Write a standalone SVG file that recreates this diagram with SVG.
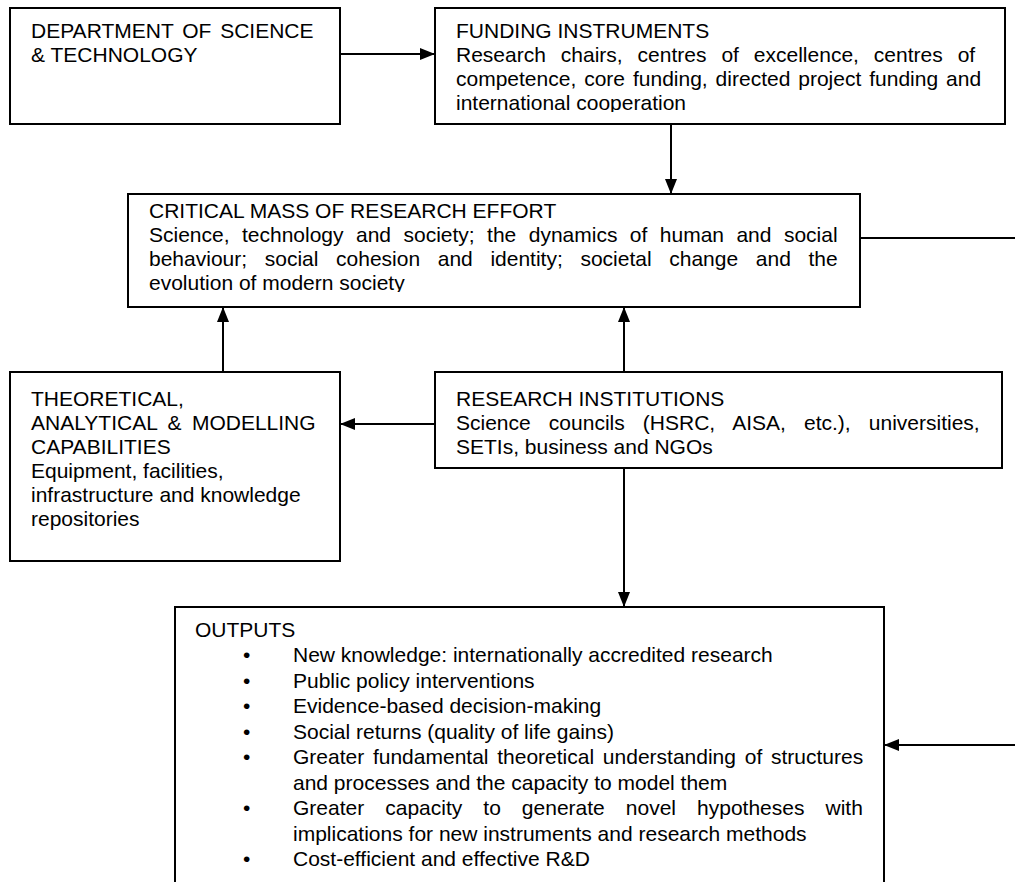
<svg xmlns="http://www.w3.org/2000/svg" width="1015" height="882" viewBox="0 0 1015 882">
<style>
.box{fill:#fff;stroke:#000;stroke-width:2}
.t{font-family:"Liberation Sans",Arial,sans-serif;font-size:21px;fill:#000}
.c{fill:none;stroke:#000;stroke-width:2}
</style>
<defs>
<marker id="ah" viewBox="0 0 15 12" refX="15" refY="6" markerWidth="15" markerHeight="12" markerUnits="userSpaceOnUse" orient="auto">
<path d="M0,0 L15,6 L0,12 Z" fill="#000"/>
</marker>
<clipPath id="cf"><rect x="434" y="8" width="572" height="104"/></clipPath>
<clipPath id="cc"><rect x="128" y="194" width="732" height="98"/></clipPath>
</defs>
<g id="dst">
<rect class="box" x="10" y="8" width="330" height="116"/>
<text class="t" x="31" y="38" word-spacing="3">DEPARTMENT OF SCIENCE</text>
<text class="t" x="31" y="62">&amp; TECHNOLOGY</text>
</g>
<g id="funding">
<rect class="box" x="435" y="8" width="570" height="116"/>
<g clip-path="url(#cf)">
<text class="t" x="456" y="38">FUNDING INSTRUMENTS</text>
<text class="t" x="456" y="62" word-spacing="9.1">Research chairs, centres of excellence, centres of</text>
<text class="t" x="456" y="86" word-spacing="2.1">competence, core funding, directed project funding and</text>
<text class="t" x="456" y="110">international cooperation</text>
</g>
</g>
<g id="critical">
<rect class="box" x="128" y="194" width="732" height="113"/>
<g clip-path="url(#cc)">
<text class="t" x="149" y="218">CRITICAL MASS OF RESEARCH EFFORT</text>
<text class="t" x="149" y="242" word-spacing="6.6">Science, technology and society; the dynamics of human and social</text>
<text class="t" x="149" y="266" word-spacing="11.8">behaviour; social cohesion and identity; societal change and the</text>
<text class="t" x="149" y="290">evolution of modern society</text>
</g>
</g>
<g id="theoretical">
<rect class="box" x="10" y="372" width="330" height="189"/>
<text class="t" x="31" y="406">THEORETICAL,</text>
<text class="t" x="31" y="430" word-spacing="4.6">ANALYTICAL &amp; MODELLING</text>
<text class="t" x="31" y="454">CAPABILITIES</text>
<text class="t" x="31" y="478">Equipment, facilities,</text>
<text class="t" x="31" y="502">infrastructure and knowledge</text>
<text class="t" x="31" y="526">repositories</text>
</g>
<g id="research">
<rect class="box" x="435" y="372" width="567" height="96"/>
<text class="t" x="456" y="406">RESEARCH INSTITUTIONS</text>
<text class="t" x="456" y="430" word-spacing="12.3">Science councils (HSRC, AISA, etc.), universities,</text>
<text class="t" x="456" y="454">SETIs, business and NGOs</text>
</g>
<g id="outputs">
<rect class="box" x="175" y="607" width="709" height="300"/>
<g class="t">
<text x="195" y="637">OUTPUTS</text>
<text x="243" y="662">•</text><text x="293" y="662">New knowledge: internationally accredited research</text>
<text x="243" y="687.5">•</text><text x="293" y="687.5">Public policy interventions</text>
<text x="243" y="713">•</text><text x="293" y="713">Evidence-based decision-making</text>
<text x="243" y="738.5">•</text><text x="293" y="738.5">Social returns (quality of life gains)</text>
<text x="243" y="764">•</text><text x="293" y="764" word-spacing="2.9">Greater fundamental theoretical understanding of structures</text>
<text x="293" y="789.5">and processes and the capacity to model them</text>
<text x="243" y="815">•</text><text x="293" y="815" word-spacing="15.2">Greater capacity to generate novel hypotheses with</text>
<text x="293" y="840.5">implications for new instruments and research methods</text>
<text x="243" y="866">•</text><text x="293" y="866">Cost-efficient and effective R&amp;D</text>
</g>
</g>
<g id="connectors">
<line class="c" x1="340" y1="54" x2="435" y2="54" marker-end="url(#ah)"/>
<line class="c" x1="671" y1="124" x2="671" y2="194" marker-end="url(#ah)"/>
<line class="c" x1="223" y1="372" x2="223" y2="307" marker-end="url(#ah)"/>
<line class="c" x1="624" y1="372" x2="624" y2="307" marker-end="url(#ah)"/>
<line class="c" x1="435" y1="424" x2="340" y2="424" marker-end="url(#ah)"/>
<line class="c" x1="624" y1="468" x2="624" y2="607" marker-end="url(#ah)"/>
<polyline class="c" points="860,238 1017,238 1017,745 884,745" marker-end="url(#ah)"/>
</g>
</svg>
